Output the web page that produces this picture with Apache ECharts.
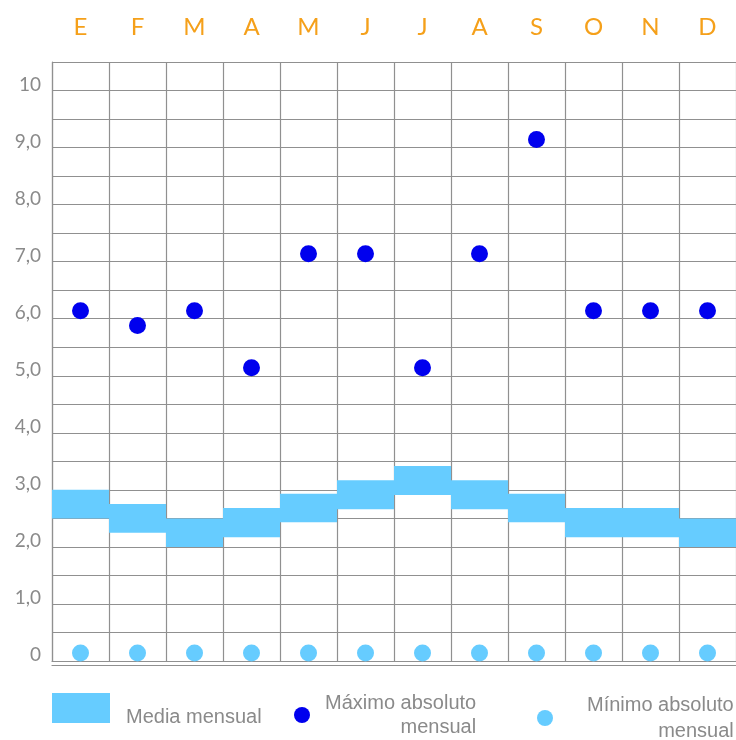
<!DOCTYPE html>
<html>
<head>
<meta charset="utf-8">
<script src="https://cdn.jsdelivr.net/npm/echarts@6/dist/echarts.min.js"></script>
<style>
  html, body { margin: 0; padding: 0; background: #fff; }
  #chart { width: 736px; height: 740px; }
</style>
</head>
<body>
<div id="chart"></div>
<script>
// meses
const months = ["E", "F", "M", "A", "M", "J", "J", "A", "S", "O", "N", "D"];
// banda de la media mensual (limite inferior / superior)
const mediaLow = [2.5, 2.25, 2.0, 2.17, 2.43, 2.66, 2.91, 2.66, 2.43, 2.17, 2.17, 2.0];
const mediaHigh = [3.0, 2.75, 2.5, 2.68, 2.93, 3.17, 3.42, 3.17, 2.93, 2.68, 2.68, 2.5];
const maxAbs = [6.14, 5.88, 6.14, 5.14, 7.14, 7.14, 5.14, 7.14, 9.14, 6.14, 6.14, 6.14];
const minAbs = [0.14, 0.14, 0.14, 0.14, 0.14, 0.14, 0.14, 0.14, 0.14, 0.14, 0.14, 0.14];
const yTickLabels = ["0", "1,0", "2,0", "3,0", "4,0", "5,0", "6,0", "7,0", "8,0", "9,0", "10"];

const gridColor = "#909090";
const labelGray = "#8a8a8a";
const legendFont = { color: labelGray, fontFamily: "Liberation Sans", fontSize: 20 };

const chart = echarts.init(document.getElementById("chart"));

const option = {
  animation: false,
  grid: { left: 52, right: 0, top: 62, bottom: 79 },
  xAxis: [
    {
      type: "category",
      position: "top",
      data: months,
      boundaryGap: true,
      axisTick: { show: false },
      axisLine: { show: true, lineStyle: { color: gridColor, width: 1.2 } },
      axisLabel: {
        margin: 23,
        color: "#f5a01a",
        fontFamily: "Lato",
        fontSize: 24,
      },
      splitLine: { show: true, lineStyle: { color: gridColor, width: 1.2 } },
    },
    {
      type: "category",
      position: "bottom",
      data: months,
      offset: 4,
      axisTick: { show: false },
      axisLabel: { show: false },
      axisLine: { show: true, lineStyle: { color: gridColor, width: 1.2 } },
      splitLine: { show: false },
    },
  ],
  yAxis: {
    type: "value",
    min: 0,
    max: 10.5,
    interval: 0.5,
    axisTick: { show: false },
    axisLine: { show: true, lineStyle: { color: gridColor, width: 1.2 } },
    splitLine: { show: true, lineStyle: { color: gridColor, width: 1.2 } },
    axisLabel: {
      margin: 11,
      color: labelGray,
      fontFamily: "Lato",
      fontSize: 19,
      verticalAlign: "bottom",
      lineHeight: 12,
      formatter: (v) => (Number.isInteger(v) && yTickLabels[v] ? yTickLabels[v] : ""),
    },
  },
  legend: [
    {
      data: ["Media mensual"],
      left: 52,
      top: 689,
      padding: 0,
      icon: "rect",
      itemWidth: 58,
      itemHeight: 30,
      formatter: (name) => "\n" + name,
      textStyle: Object.assign({ lineHeight: 18, padding: [0, 0, 0, 11] }, legendFont),
    },
    {
      data: ["Máximo absoluto mensual"],
      left: 294,
      top: 693,
      padding: 0,
      icon: "circle",
      itemWidth: 16,
      itemHeight: 16,
      formatter: () => "{a|Máximo absoluto}\n{b|mensual}",
      textStyle: Object.assign({
        padding: [0, 0, 0, 10],
        rich: {
          a: Object.assign({ lineHeight: 24 }, legendFont),
          b: Object.assign({ lineHeight: 24, align: "right" }, legendFont),
        },
      }, legendFont),
    },
    {
      data: ["Mínimo absoluto mensual"],
      left: 537,
      top: 695,
      padding: 0,
      icon: "circle",
      itemWidth: 16,
      itemHeight: 16,
      formatter: () => "{a|Mínimo absoluto}\n{b|mensual}",
      textStyle: Object.assign({
        padding: [0, 0, 0, 29],
        rich: {
          a: Object.assign({ lineHeight: 26 }, legendFont),
          b: Object.assign({ lineHeight: 26, align: "right" }, legendFont),
        },
      }, legendFont),
    },
  ],
  series: [
    {
      name: "Media mensual",
      type: "custom",
      xAxisIndex: 0,
      itemStyle: { color: "#66ccff" },
      encode: { x: 0, y: [1, 2] },
      data: months.map((m, i) => [i, mediaLow[i], mediaHigh[i]]),
      renderItem: (params, api) => {
        const i = api.value(0);
        const lo = api.coord([i, api.value(1)]);
        const hi = api.coord([i, api.value(2)]);
        const w = api.size([1, 0])[0];
        return {
          type: "rect",
          shape: { x: lo[0] - w / 2, y: hi[1], width: w, height: lo[1] - hi[1] },
          style: api.style({ fill: "#66ccff", stroke: null }),
        };
      },
    },
    {
      name: "Máximo absoluto mensual",
      type: "scatter",
      xAxisIndex: 0,
      symbolSize: 17,
      itemStyle: { color: "#0000ee", opacity: 1 },
      data: maxAbs,
    },
    {
      name: "Mínimo absoluto mensual",
      type: "scatter",
      xAxisIndex: 0,
      symbolSize: 17,
      itemStyle: { color: "#66ccff", opacity: 1 },
      data: minAbs,
    },
  ],
};

chart.setOption(option);
</script>
</body>
</html>
